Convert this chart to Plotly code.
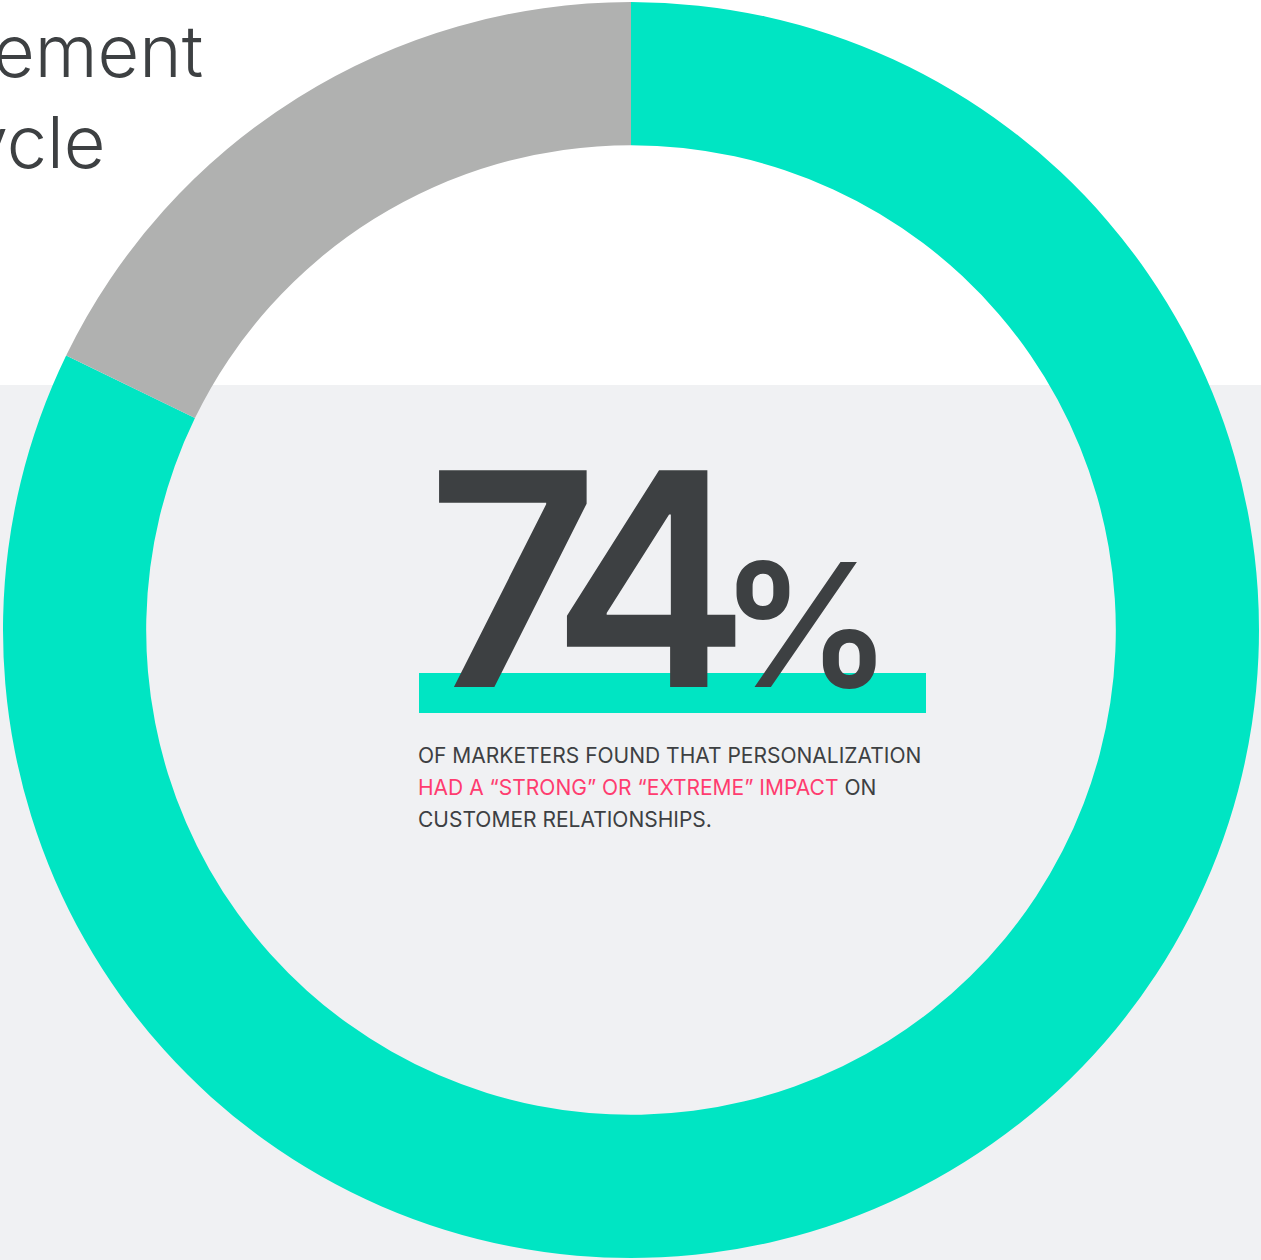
import plotly.graph_objects as go

W, H = 1261, 1260

# ---- data ----
segment_labels = ["Strong / extreme impact", "Other"]
segment_values = [82.2, 17.8]
segment_colors = ["#00E5C3", "#B0B1B0"]

headline_value = "74"
headline_unit = "%"
caption_lines = [
    "OF MARKETERS FOUND THAT PERSONALIZATION",
    "HAD A \u201cSTRONG\u201d OR \u201cEXTREME\u201d IMPACT ON",
    "CUSTOMER RELATIONSHIPS.",
]
caption_highlight = "HAD A \u201cSTRONG\u201d OR \u201cEXTREME\u201d IMPACT"
top_text_lines = ["ement", "ycle"]

DARK = "#3D4042"
PINK = "#FF3C6F"
BG_GREY = "#F0F1F3"


def px(x):
    return x / W


def py(y):
    return 1 - y / H


fig = go.Figure()

fig.add_trace(go.Pie(
    labels=segment_labels,
    values=segment_values,
    marker=dict(colors=segment_colors, line=dict(width=0)),
    hole=0.772,
    sort=False,
    direction="clockwise",
    rotation=0,
    textinfo="none",
    hoverinfo="skip",
    showlegend=False,
    domain=dict(x=[px(3), px(1259)], y=[py(1258), py(2)]),
))

shapes = [
    dict(type="rect", xref="paper", yref="paper", x0=0, x1=1, y0=0, y1=py(385),
         fillcolor=BG_GREY, line=dict(width=0), layer="below"),
    dict(type="rect", xref="paper", yref="paper", x0=px(419), x1=px(926),
         y0=py(713), y1=py(673), fillcolor=segment_colors[0], line=dict(width=0), layer="above"),
]

annotations = []
# top-left partial text
annotations.append(dict(text=top_text_lines[0], x=px(205), y=py(51), xref="paper", yref="paper",
                        xanchor="right", yanchor="middle", showarrow=False,
                        font=dict(family="Inter", size=72, color=DARK, weight=300)))
annotations.append(dict(text=top_text_lines[1], x=px(107), y=py(141), xref="paper", yref="paper",
                        xanchor="right", yanchor="middle", showarrow=False,
                        font=dict(family="Inter", size=72, color=DARK, weight=300)))

# headline
annotations.append(dict(
    text='<span style="letter-spacing:-30px">' + headline_value + '</span>'
         '<span style="font-size:172px">' + headline_unit + '</span>',
    x=px(425), y=py(579), xref="paper", yref="paper",
    xanchor="left", yanchor="middle", showarrow=False,
    font=dict(family="Inter", size=298, color=DARK, weight=600)))

# caption
for i, line in enumerate(caption_lines):
    t = line
    if caption_highlight in t:
        t = t.replace(caption_highlight, '<span style="color:%s">%s</span>' % (PINK, caption_highlight))
    annotations.append(dict(text=t, x=px(416), y=py(755 + 32 * i), xref="paper", yref="paper",
                            xanchor="left", yanchor="middle", showarrow=False,
                            font=dict(family="Inter", size=21, color=DARK, weight=400)))

fig.update_layout(
    width=W, height=H,
    margin=dict(l=0, r=0, t=0, b=0),
    paper_bgcolor="white",
    plot_bgcolor="white",
    shapes=shapes,
    annotations=annotations,
)

fig.write_html("out.html")
